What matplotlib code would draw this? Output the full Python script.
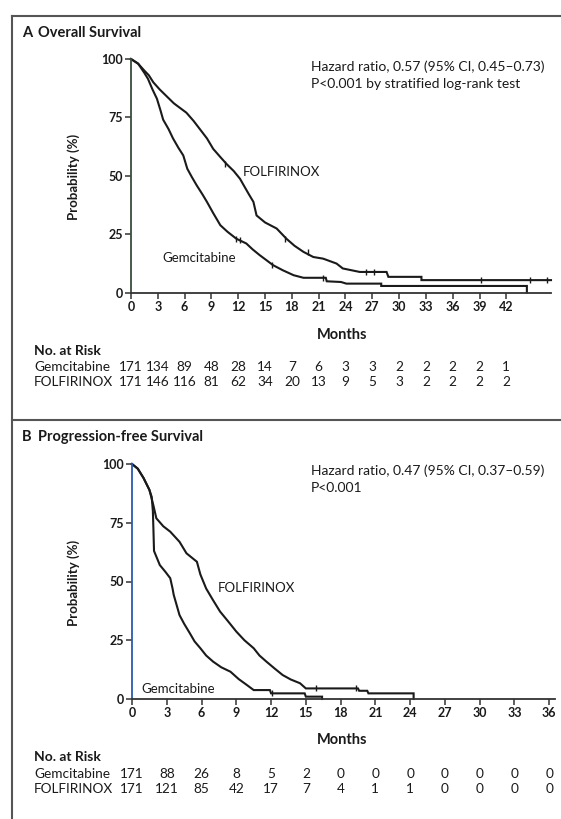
import numpy as np
import matplotlib
matplotlib.use('Agg')
import matplotlib.pyplot as plt
from matplotlib.lines import Line2D
from matplotlib.transforms import blended_transform_factory

plt.rcParams['font.family'] = ['Lato', 'DejaVu Sans']

# Overall survival (months, %)
os_folf_t = [0, 0.8, 1.5, 2.0, 2.5, 3.2, 4.0, 4.8, 5.5, 6.2, 7.0, 7.7, 8.5, 9.2, 10.0,
             10.7, 11.5, 12.2, 12.6, 13.2, 13.7, 14.05, 15.0, 16.3, 17.4, 18.3, 19.3,
             20.4, 21.5, 23.0, 23.7, 25.6, 28.6, 28.8, 32.5, 32.5, 47.0]
os_folf_p = [100, 98, 95, 93, 90, 87, 84, 81, 79, 77, 73.5, 70, 66, 61.5, 58,
             55, 52, 48.7, 46, 42, 38.8, 33, 30, 27.4, 23, 20, 17.4,
             15.2, 14.5, 12.4, 10.3, 8.8, 8.8, 6.7, 6.7, 5.3, 5.3]
os_gem_t = [0, 0.8, 1.5, 1.9, 2.4, 2.9, 3.3, 3.6, 4.2, 4.7, 5.3, 5.85, 6.3, 6.8, 7.35,
            8.0, 8.5, 9.2, 10.0, 10.8, 11.8, 12.9, 13.6, 14.4, 15.1, 15.9, 17.0, 18.2,
            19.3, 21.8, 21.9, 23.5, 24.1, 28.0, 28.0, 44.3, 44.3]
os_gem_p = [100, 98, 94, 91.5, 87, 83, 78, 74, 70, 66, 62, 58.7, 53, 49.5, 45.9,
            42, 38.8, 34, 28.8, 26, 23, 21, 18.5, 16, 14, 11.7, 9.5, 7.4,
            6.3, 6.3, 4.8, 4.5, 3.8, 3.8, 2.8, 2.8, 0]
os_folf_cens_t = [10.5, 17.2, 19.8, 26.3, 27.2, 39.2, 44.6, 46.6]
os_folf_cens_p = [55, 23, 17.4, 8.8, 8.8, 5.3, 5.3, 5.3]
os_gem_cens_t = [11.8, 12.2, 15.8, 21.5]
os_gem_cens_p = [23, 22.5, 11.7, 6.3]

# Progression-free survival (months, %)
pfs_folf_t = [0, 0.5, 1.0, 1.5, 1.84, 2.1, 2.7, 3.3, 4.1, 4.7, 5.6, 5.9, 6.4, 7.0, 7.6,
              8.3, 9.0, 9.7, 10.5, 11.0, 11.6, 12.3, 13.0, 13.7, 14.5, 15.0, 19.5,
              19.6, 20.3, 20.4, 24.3, 24.3]
pfs_folf_p = [100, 98, 94, 89, 82.5, 76.9, 73.5, 71.2, 66.9, 62, 58.4, 53, 47, 42, 37.2,
              33, 28.7, 25, 21.6, 18.5, 15.9, 13, 10.2, 8.3, 6.7, 4.5, 4.5,
              3.5, 3.5, 2.4, 2.4, 0]
pfs_gem_t = [0, 0.5, 1.0, 1.5, 1.7, 1.8, 1.85, 1.9, 2.4, 2.9, 3.3, 3.5, 3.6, 4.1, 4.5,
             5.0, 5.4, 5.9, 6.4, 7.0, 7.7, 8.5, 9.2, 9.9, 10.5, 11.9, 12.0, 14.9,
             15.0, 16.4, 16.4]
pfs_gem_p = [100, 98, 94, 89, 86, 80, 72, 63, 57, 54, 51.4, 47, 44.3, 35.7, 32,
             27.9, 24.5, 21.6, 18.5, 15.9, 13.5, 11.6, 8.5, 6, 3.8, 3.8, 2.4, 2.4,
             1.0, 1.0, 0]
pfs_folf_cens_t = [15.9, 19.3]
pfs_folf_cens_p = [4.5, 4.5]
pfs_gem_cens_t = [12.1]
pfs_gem_cens_p = [2.4]

# Numbers at risk
os_months = [0, 3, 6, 9, 12, 15, 18, 21, 24, 27, 30, 33, 36, 39, 42]
os_risk_gem = [171, 134, 89, 48, 28, 14, 7, 6, 3, 3, 2, 2, 2, 2, 1]
os_risk_folf = [171, 146, 116, 81, 62, 34, 20, 13, 9, 5, 3, 2, 2, 2, 2]
pfs_months = [0, 3, 6, 9, 12, 15, 18, 21, 24, 27, 30, 33, 36]
pfs_risk_gem = [171, 88, 26, 8, 5, 2, 0, 0, 0, 0, 0, 0, 0]
pfs_risk_folf = [171, 121, 85, 42, 17, 7, 4, 1, 1, 0, 0, 0, 0]

W, H = 561, 819
INK = '#1a1a1a'
FS = 10

fig = plt.figure(figsize=(W/100, H/100), dpi=100)


def fx(px):
    return px / W


def fy(py):
    return 1 - py / H


def painel(box, xmax, ticks, ycolor, curves, cens):
    ax = fig.add_axes(box)
    for (t, p) in curves:
        ax.plot(t, p, color=INK, lw=1.5, clip_on=False, solid_joinstyle='miter')
    for (t, p) in cens:
        ax.plot(t, p, ls='none', marker='|', ms=5, mew=1.0, color=INK, clip_on=False)
    ax.set_xlim(0, xmax)
    ax.set_ylim(0, 100)
    ax.set_xticks(ticks)
    ax.set_yticks([0, 25, 50, 75, 100])
    for s in ['top', 'right']:
        ax.spines[s].set_visible(False)
    ax.spines['left'].set_color(ycolor)
    ax.spines['left'].set_linewidth(1.3)
    ax.spines['bottom'].set_color('#333333')
    ax.spines['bottom'].set_linewidth(1.3)
    ax.tick_params(axis='both', length=4, width=1.1, color='#333333', pad=2,
                   labelsize=9, labelcolor=INK)
    for lab in ax.get_xticklabels() + ax.get_yticklabels():
        lab.set_fontweight('bold')
    ax.patch.set_alpha(0)
    return ax


# Painel A
axA = painel([fx(131), fy(292.5), fx(551) - fx(131), fy(59) - fy(292.5)], 47.0,
             os_months, '#3b4d3b',
             [(os_folf_t, os_folf_p), (os_gem_t, os_gem_p)],
             [(os_folf_cens_t, os_folf_cens_p), (os_gem_cens_t, os_gem_cens_p)])
# Painel B
axB = painel([fx(132), fy(699), fx(555) - fx(132), fy(464) - fy(699)], 36.5,
             pfs_months, '#2a5bb0',
             [(pfs_folf_t, pfs_folf_p), (pfs_gem_t, pfs_gem_p)],
             [(pfs_folf_cens_t, pfs_folf_cens_p), (pfs_gem_cens_t, pfs_gem_cens_p)])

# moldura
lc = '#555555'
fig.add_artist(Line2D([fx(12), 1], [fy(16), fy(16)], color=lc, lw=1.5))
fig.add_artist(Line2D([fx(12), fx(12)], [fy(16), 0], color=lc, lw=1.5))
fig.add_artist(Line2D([fx(12), 1], [fy(420), fy(420)], color=lc, lw=1.5))

# textos
TS = 10.5
fig.text(fx(22), fy(33), 'A', fontsize=TS, fontweight='bold', color=INK, va='center')
fig.text(fx(38), fy(33), 'Overall Survival', fontsize=TS, fontweight='bold', color=INK, va='center')
fig.text(fx(22), fy(437), 'B', fontsize=TS, fontweight='bold', color=INK, va='center')
fig.text(fx(38), fy(437), 'Progression-free Survival', fontsize=TS, fontweight='bold', color=INK, va='center')

fig.text(fx(311), fy(67), 'Hazard ratio, 0.57 (95% CI, 0.45\u20130.73)', fontsize=FS, color=INK, va='center')
fig.text(fx(311), fy(84), 'P<0.001 by stratified log-rank test', fontsize=FS, color=INK, va='center')
fig.text(fx(311), fy(471), 'Hazard ratio, 0.47 (95% CI, 0.37\u20130.59)', fontsize=FS, color=INK, va='center')
fig.text(fx(311), fy(488), 'P<0.001', fontsize=FS, color=INK, va='center')

fig.text(fx(243), fy(172), 'FOLFIRINOX', fontsize=9.5, color=INK, va='center')
fig.text(fx(162), fy(258), 'Gemcitabine', fontsize=9.5, color=INK, va='center')
fig.text(fx(218), fy(588), 'FOLFIRINOX', fontsize=9.5, color=INK, va='center')
fig.text(fx(141), fy(689), 'Gemcitabine', fontsize=9.5, color=INK, va='center')

for yc in [177, 583]:
    fig.text(fx(74), fy(yc), 'Probability (%)', fontsize=9.5, fontweight='bold', color=INK,
             rotation=90, va='center', ha='center')
fig.text(fx(342), fy(335), 'Months', fontsize=TS, fontweight='bold', color=INK, va='center', ha='center')
fig.text(fx(342), fy(740), 'Months', fontsize=TS, fontweight='bold', color=INK, va='center', ha='center')


def risco(ax, meses, gem, folf, ys):
    fig.text(fx(34), fy(ys[0]), 'No. at Risk', fontsize=FS, fontweight='bold', color=INK, va='center')
    fig.text(fx(34), fy(ys[1]), 'Gemcitabine', fontsize=9.8, color=INK, va='center')
    fig.text(fx(34), fy(ys[2]), 'FOLFIRINOX', fontsize=9.8, color=INK, va='center')
    tr = blended_transform_factory(ax.transData, fig.transFigure)
    for m, g, f in zip(meses, gem, folf):
        ax.text(m, fy(ys[1]), str(g), transform=tr, fontsize=9.8, color=INK, va='center', ha='center')
        ax.text(m, fy(ys[2]), str(f), transform=tr, fontsize=9.8, color=INK, va='center', ha='center')


risco(axA, os_months, os_risk_gem, os_risk_folf, [351, 367, 382])
risco(axB, pfs_months, pfs_risk_gem, pfs_risk_folf, [757, 774, 789])

fig.savefig('out.png', dpi=100, facecolor='white')
